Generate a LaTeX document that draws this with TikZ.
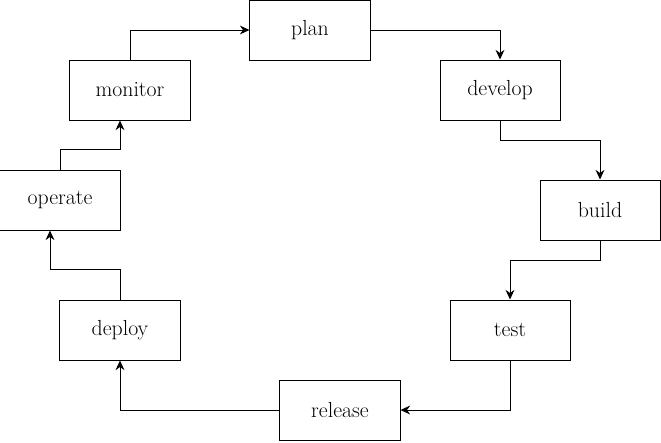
\documentclass[tikz,border=0pt]{standalone}
\usepackage{xcolor}
\usepackage{tikz}
\usetikzlibrary{
    positioning,
    arrows.meta,
    calc
}

\begin{document}
\begin{tikzpicture}[
    x=0.025cm, y=-0.025cm,
    every node/.style={font=\fontsize{15.5}{18}\selectfont},
    stage/.style={rectangle, draw=black, line width=0.7pt, align=center, minimum width=3cm, minimum height=1.5cm, inner sep=0pt},
    arrow/.style={-{Stealth[length=2.4mm, width=2.2mm]}, line width=0.7pt}
]
\useasboundingbox (0,0) rectangle (661,442);

\node[stage] (plan) at (310,30) {plan};
\node[stage] (develop) at (500,90) {develop};
\node[stage] (build) at (600,210) {build};
\node[stage] (test) at (510,330) {test};
\node[stage] (release) at (340,410) {release};
\node[stage] (deploy) at (120,330) {deploy};
\node[stage] (operate) at (60,200) {operate};
\node[stage] (monitor) at (130,90) {monitor};

\draw[arrow] (plan.east) -| (develop.north);
\draw[arrow] (develop.south) -- ++(0,20) -| (build.north);
\draw[arrow] (build.south) -- ++(0,20) -| (test.north);
\draw[arrow] (test.south) |- (release.east);
\draw[arrow] (release.west) -| (deploy.south);
\draw[arrow] (deploy.north) -- ++(0,-30) -| ([xshift=-0.25cm]operate.south);
\draw[arrow] (operate.north) -- ++(0,-20) -| ([xshift=-0.25cm]monitor.south);
\draw[arrow] (monitor.north) |- (plan.west);

\end{tikzpicture}
\end{document}
